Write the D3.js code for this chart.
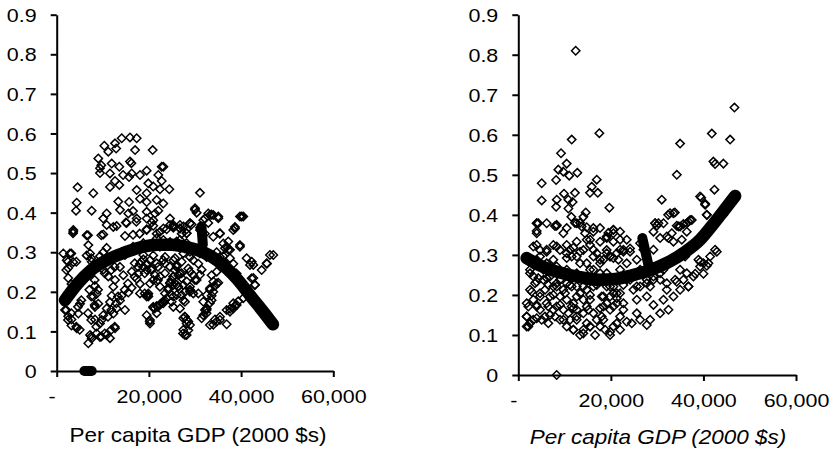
<html>
<meta charset="utf-8" />
<head>
<style>
body { margin: 0; background: #fff; }
svg text { font-family: "Liberation Sans", Arial, sans-serif; fill: #000; }
.axis path, .axis line { stroke: #000; stroke-width: 2px; }
</style>
<script src="https://d3js.org/d3.v7.min.js" charset="utf-8"></script>
</head>
<body>
<svg class="chart" width="834" height="452"></svg>

<script>
/********
 * Data *
 ********/

var xTicks = [0, 20000, 40000, 60000];
var yTicks = [0, 0.1, 0.2, 0.3, 0.4, 0.5, 0.6, 0.7, 0.8, 0.9];
var xTitle = "Per capita GDP (2000 $s)";

// [per capita GDP, value]
var leftScatter = [
  [4530,0.464],[4340,0.425],[4190,0.405],[7940,0.449],[7590,0.405],[3600,0.356],[9020,0.537],[9390,0.512],
  [9390,0.500],[10330,0.569],[11190,0.554],[11930,0.524],[12650,0.575],[12900,0.562],[14100,0.588],[15900,0.590],
  [17350,0.588],[17000,0.558],[15900,0.529],[16200,0.525],[16270,0.499],[15700,0.490],[13580,0.516],[14400,0.495],
  [11560,0.499],[11560,0.465],[12650,0.480],[13580,0.470],[18070,0.495],[19520,0.506],[20820,0.558],[19870,0.474],
  [20940,0.466],[22040,0.495],[22780,0.516],[23140,0.516],[24430,0.459],[22780,0.480],[22400,0.459],[21690,0.432],
  [19520,0.449],[19520,0.427],[18070,0.435],[17350,0.457],[15700,0.427],[15530,0.398],[16560,0.404],[13730,0.407],
  [13360,0.428],[10840,0.398],[10100,0.385],[12280,0.364],[15000,0.375],[17350,0.385],[19520,0.385],[21320,0.398],
  [22040,0.405],[20600,0.375],[23140,0.360],[24570,0.385],[31080,0.450],[29990,0.407],[30360,0.400],[32880,0.398],
  [33600,0.395],[35050,0.390],[40470,0.390],[38670,0.364],[32150,0.385],[32880,0.374],[28910,0.373],[27500,0.365],
  [25290,0.365],[26730,0.360],[9680,0.520],
  [3600,0.352],[1430,0.297],[2170,0.280],[2870,0.297],[3600,0.275],[2500,0.260],[2500,0.235],[3200,0.220],
  [1800,0.154],[2500,0.138],[3200,0.130],[4340,0.108],[3200,0.115],[4700,0.145],[5060,0.170],[6500,0.343],
  [6870,0.318],[7230,0.297],[7590,0.276],[6500,0.292],[6140,0.233],[7080,0.205],[7950,0.188],[8300,0.162],
  [8300,0.130],[7230,0.091],[6860,0.070],[7590,0.082],[8670,0.095],[9390,0.120],[9390,0.086],[10840,0.091],
  [11560,0.083],[12650,0.108],[12290,0.145],[13000,0.158],[13730,0.178],[14090,0.190],[14810,0.154],[15530,0.198],
  [16270,0.210],[12280,0.213],[11190,0.239],[10100,0.256],[9390,0.290],[10100,0.300],[10840,0.311],[10100,0.345],
  [10840,0.369],[13000,0.366],[14810,0.341],[15170,0.374],[16560,0.344],[17270,0.377],[18000,0.347],[19520,0.358],
  [20940,0.367],[21690,0.347],[23860,0.358],[25300,0.362],[27100,0.347],[28200,0.358],[29270,0.370],[31080,0.362],
  [32150,0.347],[33960,0.339],[35400,0.347],[36870,0.314],[37600,0.306],[38670,0.360],[39750,0.314],[41200,0.285],
  [42300,0.276],[42650,0.268],[44460,0.255],[45600,0.271],[46980,0.293],[42650,0.235],[43000,0.218],[41200,0.200],
  [40470,0.184],[39390,0.176],[38670,0.165],[37600,0.157],[35420,0.137],[34330,0.130],[33240,0.116],[36870,0.118],
  [32150,0.154],[32510,0.146],[33240,0.172],[33600,0.190],[33960,0.200],[34330,0.215],[35050,0.223],[28190,0.129],
  [27830,0.137],[28910,0.116],[27830,0.091],[28550,0.103],[20230,0.120],[19520,0.188],[19870,0.196],[20940,0.160],
  [21690,0.164],[22400,0.168],[23140,0.176],[23860,0.184],[24950,0.192],[18070,0.220],[17350,0.233],[17700,0.246],
  [18800,0.263],[19520,0.271],[20600,0.259],[20940,0.230],[21690,0.226],[22400,0.239],[18070,0.271],[18800,0.282],
  [20940,0.292],[23500,0.288],[25290,0.280],[26000,0.263],[26730,0.246],[27100,0.235],[25290,0.239],[24570,0.223],
  [24200,0.210],[26000,0.218],[27830,0.200],[28910,0.213],[29630,0.196],[30360,0.230],[31080,0.243],[31440,0.256],
  [30720,0.271],[29630,0.280],[28910,0.288],[27460,0.297],[31080,0.297],[32510,0.288],[34330,0.280],[35420,0.288],
  [34690,0.300],[38310,0.271],[39030,0.246],[26730,0.331],[28190,0.323],[26000,0.318],[24570,0.326],[23140,0.331],
  [22400,0.314],[21690,0.335],[18800,0.323],[16560,0.314],[14810,0.293],[13730,0.263],[16270,0.251],[14450,0.242],
  [12650,0.230],[11920,0.190],[11560,0.174],[10840,0.158],[10100,0.141],[9740,0.129],[9020,0.170],[8670,0.195],
  [8300,0.215],
  [3540,0.348],[6790,0.343],[9680,0.343],[3170,0.297],[2450,0.276],[4250,0.276],[2080,0.255],[7500,0.285],
  [8240,0.230],[8960,0.205],[7500,0.188],[8240,0.167],[6790,0.146],[7500,0.129],[8590,0.112],[7500,0.087],
  [9680,0.087],[10410,0.095],[11840,0.104],[12580,0.112],[11130,0.137],[11840,0.154],[12930,0.171],[13300,0.188],
  [14750,0.205],[15460,0.221],[16920,0.238],[17630,0.263],[18350,0.276],[19800,0.192],[19090,0.196],[21970,0.162],
  [21260,0.158],[23430,0.179],[22700,0.171],[20170,0.125],[27760,0.137],[27400,0.095],[3170,0.146],[2450,0.129],
  [4250,0.112],[4990,0.104],[4620,0.162],[5340,0.179],[2080,0.154],[10410,0.247],[11840,0.255],[12560,0.263],
  [16920,0.272],[19090,0.247],[20520,0.255],[21970,0.263],[23430,0.272],[25600,0.255],[24880,0.230],[26310,0.213],
  [24160,0.205],[21970,0.230],
  [33970,0.394],[35060,0.386],[40130,0.390],[39760,0.318],[37220,0.327],[36500,0.310],[36130,0.290],[41930,0.268],
  [46260,0.293],[45550,0.272],[42290,0.234],[43010,0.217],[39040,0.167],[38320,0.158],[37590,0.150],[34700,0.125],
  [33970,0.117],[28550,0.125],[27470,0.104],[28190,0.091],[31800,0.175],[32530,0.192],[33250,0.209],[33970,0.226],
  [33600,0.242],[34700,0.251],[31800,0.141],[32530,0.158],[25300,0.369],[26740,0.360],[28190,0.348],[26020,0.327],
  [27830,0.318],[28910,0.301],[25660,0.285],[27110,0.276],[28550,0.259],[29630,0.242],[26380,0.242],[25300,0.217],
  [27470,0.217],[28910,0.200],[26020,0.192],[27830,0.175],[24950,0.175],[26740,0.158],
  [23120,0.423],[30000,0.411],[33250,0.394],[38300,0.356],[39760,0.390],[19520,0.402],[20950,0.381],[19520,0.356],
  [22400,0.352],[24570,0.369],[26740,0.369],[28910,0.373],[28190,0.348],[31080,0.356],[31800,0.381],[35420,0.348],
  [36140,0.322],[37220,0.306],[37590,0.285],[18790,0.293],[20240,0.280],[21690,0.272],[23120,0.280],[24570,0.263],
  [26030,0.268],[19520,0.255],[21320,0.242],[23490,0.247],[25290,0.238],[27110,0.247],[28910,0.251],[20240,0.221],
  [22400,0.213],[24570,0.221],[26370,0.213],[28190,0.226],[29990,0.230],[18070,0.196],[19870,0.188],[23490,0.196],
  [25290,0.188],[27110,0.192],[28910,0.205],[30720,0.196],[20950,0.162],[23120,0.171],[25290,0.162],[27470,0.179],
  [19520,0.141],[21690,0.146],[33250,0.205],[34700,0.221],[33610,0.179],[32530,0.154],[31450,0.133],[36870,0.154],
  [38300,0.171],[35420,0.129],[27470,0.133],[28190,0.120],[20240,0.129]
];

// [per capita GDP, value]
var rightScatter = [
  [12400,0.810],[46700,0.668],[17510,0.604],[41810,0.603],[45770,0.588],[11540,0.588],[34960,0.578],[9230,0.554],
  [42160,0.533],[42520,0.527],[44320,0.528],[10460,0.528],[8650,0.513],[9730,0.508],[11010,0.498],[12750,0.505],
  [34250,0.500],[16950,0.488],[5060,0.479],[8170,0.487],[15870,0.470],[17170,0.455],[15490,0.455],[12240,0.455],
  [9870,0.453],[42380,0.463],[5060,0.436],[8310,0.438],[10820,0.438],[11740,0.432],[31000,0.438],[39520,0.443],
  [40380,0.428],[8170,0.420],[10820,0.416],[19680,0.418],[14570,0.406],[14070,0.395],[33820,0.406],[32380,0.400],
  [40740,0.400],[11460,0.395],[4320,0.379],[7920,0.372],[12240,0.380],[13690,0.371],[16210,0.367],[20540,0.362],
  [29560,0.379],[31370,0.379],[34610,0.371],[36410,0.379],[37130,0.387],
  [3970,0.379],[3970,0.360],[6130,0.379],[8290,0.373],[10460,0.367],[13340,0.380],[14780,0.369],[16210,0.358],
  [19460,0.355],[3970,0.325],[4690,0.312],[6130,0.308],[7570,0.325],[9010,0.312],[10460,0.304],[11900,0.318],
  [12620,0.296],[14060,0.312],[15500,0.325],[16950,0.304],[19100,0.312],[19830,0.296],[22710,0.308],[24150,0.316],
  [27040,0.325],[29200,0.313],[29920,0.373],[32080,0.346],[33520,0.333],[34240,0.373],[35680,0.377],[36400,0.358],
  [41450,0.296],[42890,0.308],[40010,0.279],[39290,0.283],[40730,0.273],[40010,0.253],[38210,0.253],[36760,0.221],
  [35680,0.238],[34240,0.233],[33520,0.196],[32440,0.163],[31360,0.188],[32080,0.213],[30640,0.154],[29200,0.175],
  [28480,0.138],[27760,0.125],[26320,0.138],[25600,0.154],[24520,0.129],[23430,0.133],[21990,0.146],[21270,0.179],
  [20550,0.121],[19830,0.100],[18750,0.113],[17670,0.121],[16590,0.100],[15510,0.121],[14060,0.113],[13340,0.100],
  [11900,0.113],[12620,0.138],[11180,0.138],[9010,0.138],[7930,0.146],[7570,0.163],[5770,0.146],[4690,0.163],
  [3250,0.138],[2530,0.129],[2170,0.121],[1810,0.146],[2170,0.171],[3250,0.188],[2890,0.208],[3610,0.229],
  [4330,0.242],[5410,0.263],[6850,0.246],[7570,0.221],[9010,0.238],[9730,0.213],[10460,0.188],[11900,0.179],
  [12620,0.163],[13340,0.204],[14780,0.213],[15500,0.188],[16230,0.221],[16950,0.238],[18030,0.196],[19110,0.179],
  [19830,0.163],[20550,0.221],[21990,0.204],[22710,0.179],[23430,0.238],[24870,0.213],[25600,0.188],[26320,0.221],
  [27760,0.196],[28480,0.221],[29200,0.246],[30640,0.238],[31360,0.263],[27760,0.238],[26320,0.263],[21990,0.263],
  [19100,0.254],[16230,0.263],[12620,0.254],[10460,0.263],[8290,0.271],[6130,0.279],[3970,0.288],[14780,0.279],
  [17670,0.279],[23430,0.279],[25600,0.288],[33520,0.288],[34960,0.304],[32080,0.279],[8290,0.000],
  [39280,0.446],[40370,0.425],[33510,0.404],[32790,0.404],[40730,0.400],[29560,0.379],[30280,0.379],[34960,0.371],
  [36760,0.383],[37480,0.387],[20550,0.363],[19100,0.346],[32440,0.342],[30640,0.342],[33160,0.354],[29200,0.358],
  [35320,0.338],[26310,0.329],[24150,0.308],[22710,0.313],[27030,0.313],[34250,0.296],[36040,0.296],[38920,0.288],
  [39280,0.271],[41080,0.279],[42520,0.313],[34960,0.263],[36400,0.254],[37840,0.246],[33880,0.238],[32080,0.229],
  [36760,0.221],[34960,0.213],[30640,0.254],[29200,0.238],[19830,0.296],[18380,0.288],[21620,0.288],[21990,0.246],
  [24150,0.238],[25600,0.221],[27760,0.229],[19110,0.221],[20550,0.204],
  [2530,0.263],[3250,0.246],[2890,0.279],[4690,0.196],[5770,0.213],[6130,0.179],[6850,0.196],[3970,0.171],
  [5050,0.138],[6490,0.129],[8290,0.171],[9730,0.163],[10820,0.154],[10460,0.121],[11540,0.171],[14060,0.188],
  [14060,0.154],[15140,0.163],[16230,0.154],[16950,0.138],[18030,0.146],[18390,0.171],[19830,0.196],[21270,0.204],
  [11540,0.221],[10460,0.229],[12620,0.221],[8290,0.221],[9010,0.196],[5410,0.238],[6490,0.225],[11540,0.296],
  [13340,0.279],[15500,0.263],[17670,0.254],[16230,0.296],[10460,0.325],[12620,0.333],[14780,0.338],[17670,0.333],
  [20540,0.333],[21990,0.338],[21990,0.358],[23430,0.338],[21270,0.304],
  [3980,0.379],[3980,0.354],[8300,0.375],[9730,0.354],[12630,0.379],[14420,0.354],[15500,0.338],[17660,0.367],
  [20540,0.354],[19110,0.342],[3240,0.321],[6140,0.313],[8300,0.321],[11180,0.313],[13340,0.308],[16220,0.313],
  [19110,0.304],[21990,0.313],[4690,0.296],[7570,0.288],[10460,0.292],[17660,0.288],[20540,0.292],[2530,0.254],
  [3980,0.233],[6140,0.242],[8300,0.229],[11180,0.225],[14050,0.221],[16950,0.225],[19830,0.221],[22700,0.225],
  [2530,0.213],[4690,0.204],[7570,0.200],[10100,0.204],[12630,0.196],[15500,0.200],[18380,0.196],[21270,0.192],
  [1820,0.179],[3980,0.175],[6490,0.171],[9020,0.175],[11890,0.167],[14790,0.171],[17660,0.167],[20540,0.171],
  [22700,0.163],[1820,0.146],[3980,0.142],[6850,0.150],[9730,0.138],[12630,0.146],[14790,0.129],[18380,0.138],
  [21270,0.129],[1820,0.121],[11890,0.113],[14050,0.104],[15500,0.121],[19830,0.108],[21990,0.113]
];

// fitted curves
var leftFit = [
  [1800,0.179],[4500,0.220],[7500,0.255],[11000,0.281],[14700,0.299],[18000,0.312],[22000,0.319],[25000,0.319],
  [28000,0.313],[31800,0.300],[35000,0.278],[39000,0.234],[42500,0.183],[45000,0.147],[46900,0.118]
];
var rightFit = [
  [1800,0.292],[5000,0.272],[9000,0.256],[13000,0.245],[17600,0.238],[21000,0.240],[24900,0.250],[28500,0.262],
  [32100,0.280],[36000,0.307],[39300,0.338],[42200,0.378],[44500,0.412],[46850,0.447]
];
// stray fitted markers off the main curve
var leftFitExtra = [ [[6000,0],[7600,0]], [[31400,0.365],[31700,0.32]] ];
var rightFitExtra = [ [[26800,0.342],[28300,0.265]] ];

/**************
 * Make Panel *
 **************/

var svg = d3.select(".chart");

function stretchText(sel, k) {
  sel.each(function() {
    var w = this.getComputedTextLength();
    d3.select(this)
        .attr("textLength", w * k)
        .attr("lengthAdjust", "spacingAndGlyphs");
  });
}

function makePanel(p) {
  var x = d3.scaleLinear()
      .domain([0, 60000])
      .range([p.left, p.right]);

  var y = d3.scaleLinear()
      .domain([0, 0.9])
      .range([p.bottom, p.top]);

  var g = svg.append("g");

  // axes
  var yAxis = d3.axisLeft(y)
      .tickValues(yTicks)
      .tickSize(6)
      .tickSizeOuter(0)
      .tickPadding(14)
      .tickFormat(function(d){ return d === 0 ? "0" : d3.format(".1f")(d); });

  var xAxis = d3.axisBottom(x)
      .tickValues(xTicks)
      .tickSize(6)
      .tickSizeOuter(0)
      .tickPadding(13)
      .tickFormat(function(d){ return d === 0 ? "-" : d3.format(",")(d); });

  var ya = g.append("g")
      .attr("class", "axis")
      .attr("transform", "translate(" + p.left + ",0)")
      .call(yAxis);

  var xa = g.append("g")
      .attr("class", "axis")
      .attr("transform", "translate(0," + p.bottom + ")")
      .call(xAxis);

  ya.attr("font-family", null);
  xa.attr("font-family", null);
  ya.selectAll("text").attr("font-size", "18.5px").attr("dy", "0.36em");
  xa.selectAll("text").attr("font-size", "18.5px");
  xa.selectAll(".tick text").filter(function(d){ return d === 0; }).attr("dx", -5);
  stretchText(ya.selectAll("text"), 1.16);
  stretchText(xa.selectAll("text"), 1.16);

  // scatter (hollow diamonds)
  g.append("g").selectAll("path")
      .data(p.scatter)
    .enter().append("path")
      .attr("d", "M0,-4.2L4.2,0L0,4.2L-4.2,0Z")
      .attr("transform", function(d){ return "translate(" + x(d[0]) + "," + y(d[1]) + ")"; })
      .attr("fill", "none")
      .attr("stroke", "#000")
      .attr("stroke-width", 1.5);

  // fitted curve
  var line = d3.line()
      .x(function(d){ return x(d[0]); })
      .y(function(d){ return y(d[1]); })
      .curve(d3.curveMonotoneX);

  g.append("path")
      .attr("d", line(p.fit))
      .attr("fill", "none")
      .attr("stroke", "#000")
      .attr("stroke-width", 12.5)
      .attr("stroke-linecap", "round")
      .attr("stroke-linejoin", "round");

  g.selectAll(".extra")
      .data(p.extra)
    .enter().append("path")
      .attr("class", "extra")
      .attr("d", d3.line().x(function(d){ return x(d[0]); }).y(function(d){ return y(d[1]); }))
      .attr("fill", "none")
      .attr("stroke", "#000")
      .attr("stroke-width", 10)
      .attr("stroke-linecap", "round");

  // x title
  var t = g.append("text")
      .attr("x", p.titleX)
      .attr("y", p.titleY)
      .style("font-size", "21px")
      .style("font-style", p.italic ? "italic" : "normal")
      .style("text-anchor", "middle")
      .text(xTitle);
  stretchText(t, 1.07);
}

makePanel({
  left: 56.7, right: 333.3, top: 14.7, bottom: 371,
  titleX: 198, titleY: 442, italic: false,
  scatter: leftScatter, fit: leftFit, extra: leftFitExtra
});

makePanel({
  left: 518.3, right: 796, top: 14.7, bottom: 375,
  titleX: 658, titleY: 444, italic: true,
  scatter: rightScatter, fit: rightFit, extra: rightFitExtra
});
</script>
</body>
</html>
